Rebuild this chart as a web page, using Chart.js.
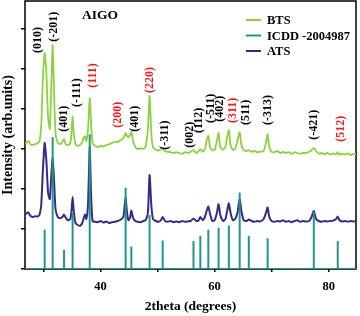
<!DOCTYPE html>
<html>
<head>
<meta charset="utf-8">
<script src="https://cdn.jsdelivr.net/npm/chart.js@4"></script>
<style>
  body { margin: 0; background: #fff; }
</style>
</head>
<body>
<canvas id="xrdChart" width="360" height="316"></canvas>
<script>
// 2theta grid shared by both measured scans
const scanAngles = [
  26.8, 27.3, 27.7, 28.1, 28.5, 28.9, 29.3, 29.6, 29.9, 30.2,
  30.5, 30.8, 31.1, 31.35, 31.6, 31.85, 32.1, 32.5, 32.9, 33.3,
  33.6, 33.9, 34.3, 34.7, 34.9, 35.1, 35.3, 35.6, 36.0, 36.4,
  36.8, 37.1, 37.3, 37.5, 37.8, 38.1, 38.35, 38.6, 39.0, 39.5,
  40.0, 40.5, 41.0, 41.5, 42.0, 42.5, 43.0, 43.5, 44.0, 44.2,
  44.4, 44.65, 44.9, 45.2, 45.4, 45.7, 46.1, 46.5, 47.0, 47.5,
  47.9, 48.3, 48.6, 48.9, 49.2, 49.7, 50.2, 50.6, 50.9, 51.3,
  51.8, 52.3, 52.8, 53.3, 53.8, 54.3, 54.8, 55.3, 55.8, 56.3,
  56.8, 57.2, 57.5, 57.9, 58.3, 58.6, 58.9, 59.2, 59.6, 60.0,
  60.4, 60.7, 61.0, 61.5, 61.9, 62.2, 62.5, 62.8, 63.2, 63.6,
  64.0, 64.4, 64.7, 65.1, 65.6, 66.0, 66.5, 67.0, 67.5, 68.0,
  68.6, 69.0, 69.3, 69.6, 70.0, 70.5, 71.0, 71.5, 72.0, 72.5,
  73.0, 73.5, 74.0, 74.5, 75.0, 75.5, 76.0, 76.6, 77.0, 77.4,
  77.8, 78.3, 78.8, 79.3, 79.8, 80.3, 80.8, 81.3, 81.6, 81.9,
  82.4, 82.9, 83.4, 83.9, 84.4, 84.8
];

// stacked intensities (arb. units)
const btsIntensity = [
  3.12, 3.20, 3.12, 3.10, 3.12, 3.14, 3.20, 3.60, 4.80, 5.40,
  4.90, 3.80, 3.50, 4.50, 5.60, 4.40, 3.40, 3.15, 3.12, 3.18,
  3.25, 3.12, 3.10, 3.15, 3.40, 3.83, 3.40, 3.12, 3.08, 3.10,
  3.18, 3.30, 3.32, 3.20, 3.50, 4.27, 3.60, 3.15, 3.08, 3.05,
  3.08, 3.06, 3.10, 3.12, 3.15, 3.18, 3.17, 3.22, 3.28, 3.33,
  3.40, 3.32, 3.30, 3.35, 3.43, 3.20, 3.05, 3.00, 3.02, 3.00,
  3.05, 3.50, 4.33, 3.40, 3.05, 2.98, 2.96, 3.00, 3.02, 2.95,
  2.93, 2.92, 2.90, 2.92, 2.90, 2.88, 2.92, 2.90, 2.93, 2.97,
  2.90, 2.95, 3.00, 2.93, 3.00, 3.20, 3.33, 3.05, 2.97, 2.98,
  3.20, 3.40, 3.05, 2.98, 3.05, 3.30, 3.47, 3.10, 2.98, 3.00,
  3.20, 3.42, 3.10, 2.97, 2.95, 2.97, 2.93, 2.95, 2.92, 2.93,
  2.95, 3.15, 3.37, 3.05, 2.93, 2.92, 2.95, 2.90, 2.93, 2.90,
  2.92, 2.88, 2.92, 2.90, 2.88, 2.90, 2.90, 2.93, 2.97, 3.03,
  2.95, 2.88, 2.90, 2.87, 2.90, 2.86, 2.89, 2.87, 2.92, 2.86,
  2.88, 2.86, 2.89, 2.85, 2.88, 2.87
];

const atsIntensity = [
  1.36, 1.42, 1.33, 1.30, 1.32, 1.31, 1.36, 1.60, 2.50, 3.15,
  2.70, 1.90, 1.75, 2.30, 2.78, 2.20, 1.50, 1.30, 1.27, 1.30,
  1.36, 1.28, 1.22, 1.25, 1.45, 1.80, 1.45, 1.15, 1.10, 1.08,
  1.15, 1.30, 1.36, 1.25, 1.60, 3.05, 1.80, 1.20, 1.18, 1.17,
  1.20, 1.16, 1.19, 1.15, 1.17, 1.18, 1.20, 1.23, 1.30, 1.55,
  1.78, 1.40, 1.22, 1.30, 1.46, 1.28, 1.20, 1.18, 1.17, 1.20,
  1.22, 1.40, 2.35, 1.60, 1.25, 1.20, 1.18, 1.22, 1.30, 1.20,
  1.18, 1.20, 1.17, 1.19, 1.17, 1.20, 1.18, 1.19, 1.20, 1.26,
  1.20, 1.22, 1.30, 1.22, 1.30, 1.45, 1.56, 1.38, 1.20, 1.22,
  1.40, 1.62, 1.35, 1.20, 1.25, 1.45, 1.64, 1.40, 1.22, 1.25,
  1.40, 1.75, 1.45, 1.22, 1.20, 1.24, 1.20, 1.18, 1.20, 1.19,
  1.25, 1.40, 1.54, 1.30, 1.20, 1.18, 1.20, 1.19, 1.22, 1.18,
  1.20, 1.17, 1.20, 1.22, 1.18, 1.20, 1.19, 1.20, 1.30, 1.45,
  1.25, 1.20, 1.18, 1.20, 1.19, 1.20, 1.21, 1.25, 1.31, 1.22,
  1.19, 1.20, 1.18, 1.20, 1.19, 1.20
];

// ICDD reference card sticks
const icddAngles = [30.2, 31.6, 33.6, 35.1, 38.1, 44.4, 45.4, 48.6, 50.9, 56.3,
                    57.5, 58.9, 60.7, 62.5, 64.4, 66.0, 69.3, 77.4, 81.6];
const icddHeights = [0.98, 3.3, 0.48, 1.4, 3.37, 2.03, 0.56, 1.35, 0.71, 0.7,
                     0.83, 0.98, 1.03, 1.09, 1.91, 0.83, 0.77, 1.43, 0.7];

// plane labels, placed at (2theta, intensity) where the text starts
const planeLabels = ["(010)", "(-201)", "(401)", "(-111)", "(111)", "(200)", "(401)", "(220)", "(-311)",
                     "(002)", "(112)", "(-511)", "(402)", "(311)", "(511)", "(-313)", "(-421)", "(512)"];
const planeAngles = [29.1, 31.9, 33.6, 35.9, 38.7, 43.1, 46.05, 48.7, 51.3,
                     55.6, 57.3, 59.3, 61.0, 63.2, 65.5, 69.3, 77.5, 82.1];
const planeLevels = [5.4, 5.68, 3.43, 4.05, 4.53, 3.53, 3.43, 4.4, 2.98,
                     3.03, 3.4, 3.65, 3.68, 3.65, 3.6, 3.6, 3.23, 3.18];
const redPlanes = ["(111)", "(200)", "(220)", "(311)", "(512)"];

const twoThetaMin = 26.75;
const twoThetaMax = 84.8;

const GREEN = "#8cd23c";
const TEAL = "#1f978c";
const PURPLE = "#372a86";
const RED = "#ee1c1c";
const SERIF = "'Liberation Serif', 'Times New Roman', serif";

function toPoints(xs, ys) {
  let pts = [];
  for (let i = 0; i < xs.length; i++) {
    pts.push({ x: xs[i], y: ys[i] });
  }
  return pts;
}

function stickPoints() {
  let pts = [{ x: twoThetaMin, y: 0 }];
  for (let i = 0; i < icddAngles.length; i++) {
    pts.push({ x: icddAngles[i], y: 0 });
    pts.push({ x: icddAngles[i], y: icddHeights[i] });
    pts.push({ x: icddAngles[i], y: 0 });
  }
  pts.push({ x: twoThetaMax, y: 0 });
  return pts;
}

const decorations = {
  id: "decorations",
  beforeDatasetsDraw: function (chart) {
    let a = chart.chartArea;
    let ctx = chart.ctx;
    ctx.save();
    ctx.strokeStyle = "#000";
    ctx.lineWidth = 1.5;
    ctx.strokeRect(a.left, a.top, a.right - a.left, a.bottom - a.top);
    ctx.restore();
  },
  afterDatasetsDraw: function (chart) {
    let a = chart.chartArea;
    let ctx = chart.ctx;
    let xs = chart.scales.x;
    let ys = chart.scales.y;
    ctx.save();

    // hkl labels, rotated
    ctx.font = "bold 12px " + SERIF;
    ctx.textAlign = "left";
    ctx.textBaseline = "middle";
    for (let i = 0; i < planeLabels.length; i++) {
      ctx.save();
      ctx.translate(xs.getPixelForValue(planeAngles[i]), ys.getPixelForValue(planeLevels[i]));
      ctx.rotate(-Math.PI / 2);
      ctx.fillStyle = redPlanes.indexOf(planeLabels[i]) !== -1 ? RED : "#000";
      ctx.fillText(planeLabels[i], 0, 0);
      ctx.restore();
    }

    // sample name
    ctx.fillStyle = "#000";
    ctx.font = "bold 13.5px " + SERIF;
    ctx.textAlign = "center";
    ctx.fillText("AIGO", a.left + 75, a.top + 15);

    // legend
    ctx.font = "bold 12.5px " + SERIF;
    ctx.textAlign = "left";
    let sets = chart.data.datasets;
    for (let i = 0; i < sets.length; i++) {
      let y = a.top + 19 + i * 15.5;
      ctx.strokeStyle = sets[i].borderColor;
      ctx.lineWidth = 2;
      ctx.beginPath();
      ctx.moveTo(a.right - 110, y);
      ctx.lineTo(a.right - 95, y);
      ctx.stroke();
      ctx.fillStyle = "#000";
      ctx.fillText(sets[i].label, a.right - 89, y + 1);
    }
    ctx.restore();
  }
};

new Chart(document.getElementById("xrdChart"), {
  type: "line",
  data: {
    datasets: [
      { label: "BTS", data: toPoints(scanAngles, btsIntensity), borderColor: GREEN, borderWidth: 1.8, tension: 0.2 },
      { label: "ICDD -2004987", data: stickPoints(), borderColor: TEAL, borderWidth: 2 },
      { label: "ATS", data: toPoints(scanAngles, atsIntensity), borderColor: PURPLE, borderWidth: 2, tension: 0.2 }
    ]
  },
  plugins: [decorations],
  options: {
    responsive: false,
    animation: false,
    events: [],
    elements: { point: { radius: 0 }, line: { tension: 0 } },
    layout: { padding: { top: 1, right: 4, left: 0, bottom: 0 } },
    plugins: { legend: { display: false }, tooltip: { enabled: false } },
    scales: {
      x: {
        type: "linear",
        min: twoThetaMin,
        max: twoThetaMax,
        afterFit: function (scale) { scale.height = 47; },
        border: { display: false },
        grid: { drawOnChartArea: false, tickLength: 3, color: "#000", lineWidth: 1.5 },
        ticks: {
          stepSize: 10,
          includeBounds: false,
          autoSkip: false,
          maxRotation: 0,
          padding: 7,
          color: "#000",
          font: { family: SERIF, size: 12.5, weight: "bold" },
          callback: function (v) { return v % 20 === 0 ? v : ""; }
        },
        title: {
          display: true,
          text: "2theta (degrees)",
          color: "#000",
          font: { family: SERIF, size: 13.5, weight: "bold" },
          padding: { top: 0, bottom: 1 }
        }
      },
      y: {
        min: 0,
        max: 6.7,
        afterFit: function (scale) { scale.width = 25; },
        border: { display: false },
        grid: { drawOnChartArea: false, tickLength: 4, color: "#000", lineWidth: 1.5 },
        ticks: { stepSize: 1, includeBounds: false, display: false },
        title: {
          display: true,
          text: "Intensity (arb.units)",
          color: "#000",
          font: { family: SERIF, size: 14, weight: "bold" },
          padding: 0
        }
      }
    }
  }
});
</script>
</body>
</html>
